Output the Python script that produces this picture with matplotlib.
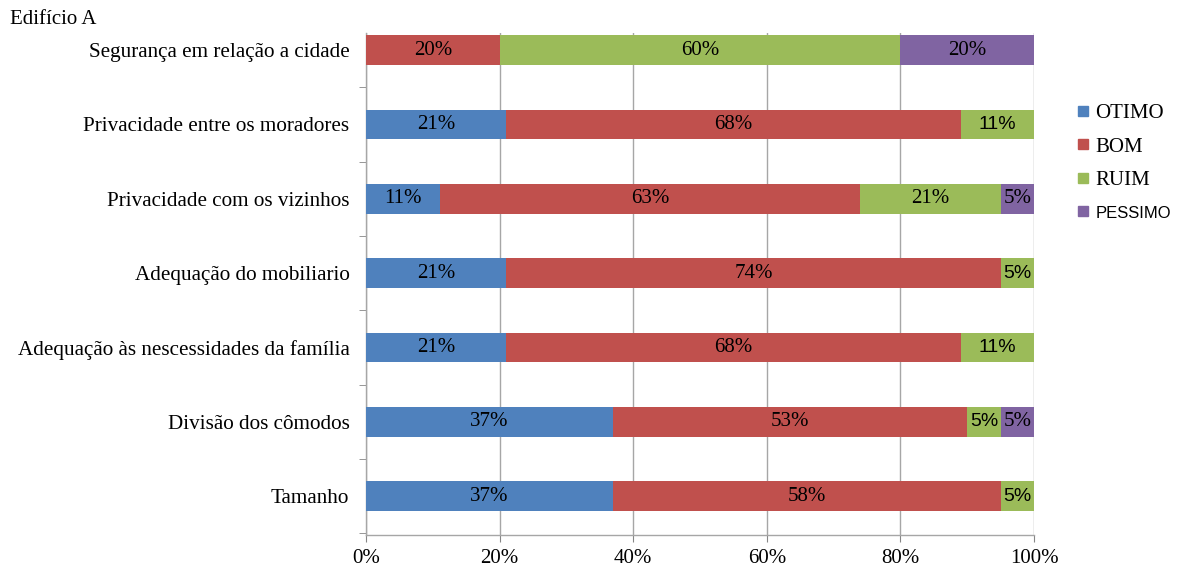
import numpy as np
import matplotlib
matplotlib.use('Agg')
import matplotlib.pyplot as plt
from matplotlib.lines import Line2D

# categories listed bottom -> top
categorias = ['Tamanho',
              'Divisão dos cômodos',
              'Adequação às nescessidades da família',
              'Adequação do mobiliario',
              'Privacidade com os vizinhos',
              'Privacidade entre os moradores',
              'Segurança em relação a cidade']
otimo = [37, 37, 21, 21, 11, 21, 0]
bom = [58, 53, 68, 74, 63, 68, 20]
ruim = [5, 5, 11, 5, 21, 11, 60]
pessimo = [0, 5, 0, 0, 5, 0, 20]
series_names = ['OTIMO', 'BOM', 'RUIM', 'PESSIMO']
xticks = [0, 20, 40, 60, 80, 100]

cores = ['#4F81BD', '#C0504D', '#9BBB59', '#8064A2']
serif = 'Liberation Serif'
sans = 'Liberation Sans'

fig = plt.figure(figsize=(11.77, 5.67), dpi=100)
ax = fig.add_axes([0.311, 0.0564, 0.5675, 0.8854])

y = np.arange(len(categorias))
left = np.zeros(len(categorias))
for nome, vals, cor in zip(series_names, [otimo, bom, ruim, pessimo], cores):
    vals = np.array(vals, dtype=float)
    ax.barh(y, vals, left=left, height=0.40, color=cor, edgecolor='none', zorder=3)
    for yi, l, v in zip(y, left, vals):
        if v > 0:
            if nome == 'RUIM' and v < 15:
                fam, fs = sans, 14
            else:
                fam, fs = serif, 15
            ax.text(l + v / 2, yi, f'{int(v)}%', ha='center', va='center',
                    fontsize=fs, family=fam, color='black', zorder=4)
    left += vals

ax.set_xlim(0, 100)
ax.set_ylim(-0.525, 6.23)
ax.set_xticks(xticks)
ax.set_xticklabels([f'{t}%' for t in xticks], family=serif, fontsize=15)
ax.set_yticks(y)
ax.set_yticklabels(categorias, family=serif, fontsize=15.2)
ax.set_yticks(np.arange(-0.5, 6, 1.0), minor=True)
ax.tick_params(axis='y', which='major', length=0, pad=12)
ax.tick_params(axis='y', which='minor', length=5, color='#868686', direction='out')
ax.tick_params(axis='x', length=5, color='#868686', direction='out', pad=5)
ax.grid(axis='x', color='#A6A6A6', linewidth=1.0, zorder=0)

for s in ['top', 'right']:
    ax.spines[s].set_visible(False)
for s in ['left', 'bottom']:
    ax.spines[s].set_color('#A6A6A6')
    ax.spines[s].set_linewidth(1.0)

fig.text(10 / 1177, 1 - 20 / 567, 'Edifício A', family=serif, fontsize=15,
         ha='left', va='center')

handles = [Line2D([0], [0], marker='s', linestyle='none', markersize=7.5,
                  markerfacecolor=c, markeredgecolor=c) for c in cores]
leg = fig.legend(handles, series_names, loc='upper left',
                 bbox_to_anchor=(1057 / 1177, 1 - 85 / 567), frameon=False,
                 prop={'family': serif, 'size': 15}, handletextpad=0.25,
                 handlelength=0.7, labelspacing=0.66)
leg.get_texts()[3].set_family(sans)
leg.get_texts()[3].set_fontsize(12)

fig.savefig('out.png', dpi=100)
